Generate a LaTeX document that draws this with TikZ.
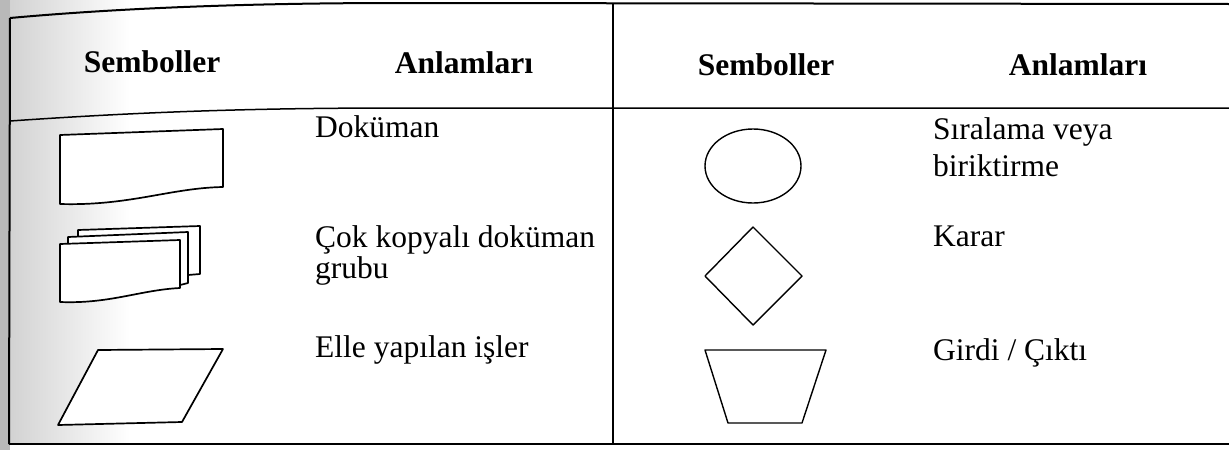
\documentclass[tikz,border=0pt]{standalone}
\usepackage{fontspec}
\setmainfont{Liberation Serif}
\begin{document}
\begin{tikzpicture}[x=1pt,y=-1pt,line join=round,
  tline/.style={line width=1.5pt},
  lshape/.style={line width=1.7pt,fill=white},
  rshape/.style={line width=1.4pt},
  hdr/.style={font=\fontsize{31.5}{36}\selectfont\bfseries,anchor=base,inner sep=0pt},
  txt/.style={font=\fontsize{31.5}{36}\selectfont,anchor=base west,inner sep=0pt}]
\useasboundingbox (0,0) rectangle (1229,450);
\fill[white] (0,0) rectangle (1229,450);
% scanned grey margin
\shade[left color=gray!35,right color=white] (10,0) rectangle (130,444);
\fill[gray!55] (0,0) rectangle (10,450);
% table lines
\draw[line width=2pt] (10,18) .. controls (120,8) and (250,3) .. (400,3) -- (1229,4);
\draw[line width=2pt] (10,18) -- (9,444);
\draw[tline] (10,121) .. controls (140,112) and (250,108) .. (400,108) -- (1229,108);
\draw[tline] (9,444) -- (1229,444);
\draw[tline] (613,3) -- (613,444);
% headers
\node[hdr] (h1) at (152,72) {Semboller};
\node[hdr] (h2) at (464,73) {Anlamları};
\node[hdr] (h3) at (766,75) {Semboller};
\node[hdr] (h4) at (1078,75) {Anlamları};
% left symbols
% document
\draw[lshape] (60,135) -- (223,129) -- (223,187)
  .. controls (170,188) and (130,206) .. (60,204) -- cycle;
% multi-document
\draw[lshape] (78,230) -- (200,226) -- (200,274) -- (188,275) -- (78,275) -- cycle;
\draw[lshape] (68,237) -- (188,232) -- (188,283) -- (180,285) -- (68,285) -- cycle;
\draw[lshape] (60,244) -- (180,240) -- (180,288)
  .. controls (140,290) and (110,304) .. (60,302) -- cycle;
% manual operation
\draw[lshape] (98,350) -- (223,349) -- (182,422) -- (58,425) -- cycle;
% right symbols
\draw[rshape] (753,166) ellipse [x radius=48pt,y radius=37pt];
\draw[rshape] (753,227) -- (802,276) -- (753,325) -- (705,276) -- cycle;
\draw[rshape] (705,350) -- (826,350) -- (802,423) -- (728,423) -- cycle;
% meanings
\node[txt] (t1) at (315,137) {Doküman};
\node[txt] (t2) at (315,247) {Çok kopyalı doküman};
\node[txt] (t3) at (315,278) {grubu};
\node[txt] (t4) at (315,357) {Elle yapılan işler};
\node[txt] (t5) at (933,139) {Sıralama veya};
\node[txt] (t6) at (933,176) {biriktirme};
\node[txt] (t7) at (933,246) {Karar};
\node[txt] (t8) at (933,360) {Girdi / Çıktı};
\end{tikzpicture}
\end{document}
